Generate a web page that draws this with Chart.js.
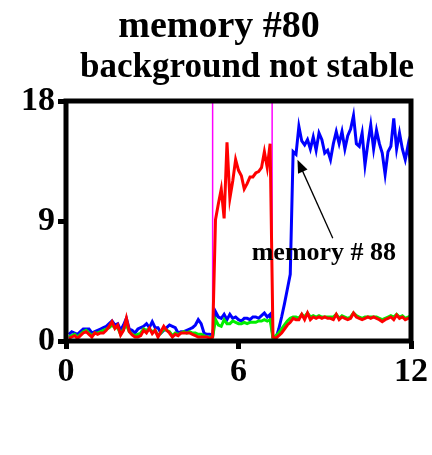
<!DOCTYPE html>
<html>
<head>
<meta charset="utf-8">
<script src="https://cdn.jsdelivr.net/npm/chart.js@4.4.0/dist/chart.umd.min.js"></script>
<style>
  html, body { margin: 0; padding: 0; background: #fff; }
  #wrap { width: 432px; height: 455px; }
</style>
</head>
<body>
<div id="wrap"><canvas id="memChart" width="432" height="455"></canvas></div>
<script>
// one sample every 0.1 time units
const t0 = 0.1;
const dt = 0.1;

const blueValues = [
  0.5, 0.7, 0.6, 0.5, 0.7, 0.9, 0.9, 0.9, 0.6, 0.7,
  0.8, 0.9, 1.0, 1.1, 1.3, 1.5, 1.2, 1.3, 0.8, 1.2,
  1.7, 0.9, 0.8, 0.6, 0.9, 1.0, 1.1, 1.3, 1.0, 1.45,
  1.0, 1.0, 0.6, 0.8, 1.0, 1.2, 1.1, 1.0, 0.6, 0.7,
  0.7, 0.8, 0.9, 1.0, 1.2, 1.6, 1.3, 0.6, 0.5, 0.5,
  0.4,
  2.2, 1.8, 1.7, 2.0, 1.6, 2.0, 1.7, 1.8, 1.6, 1.5,
  1.7, 1.7, 1.6, 1.8, 1.8, 1.7, 1.9, 2.1, 1.8, 2.0,
  0.3, 0.2, 0.9, 1.8, 2.8, 3.9, 5.0,
  14.2, 14.0, 16.1, 15.0, 14.7, 15.1, 14.4, 15.3, 14.3, 15.6,
  15.1, 14.1, 14.3, 13.6, 14.8, 15.7, 14.8, 15.7, 14.4, 15.4,
  15.9, 16.9, 14.8, 14.6, 15.6, 13.2, 14.8, 16.2, 14.4, 15.8,
  14.8, 14.1, 12.5, 14.2, 14.6, 16.7, 14.4, 15.6, 14.4, 13.6,
  14.7, 13.0
];

const greenValues = [
  0.3, 0.4, 0.5, 0.3, 0.5, 0.7, 0.8, 0.6, 0.4, 0.6,
  0.6, 0.7, 0.8, 0.9, 1.0, 1.2, 1.0, 1.0, 0.5, 0.9,
  1.2, 0.7, 0.5, 0.4, 0.5, 0.6, 0.9, 0.8, 0.9, 0.7,
  0.8, 0.4, 0.6, 0.9, 0.8, 0.7, 0.4, 0.6, 0.5, 0.6,
  0.7, 0.6, 0.7, 0.6, 0.6, 0.5, 0.5, 0.4, 0.3, 0.3,
  0.3,
  1.6, 1.2, 1.1, 1.6, 1.3, 1.3, 1.5, 1.4, 1.3, 1.3,
  1.4, 1.3, 1.4, 1.4, 1.4, 1.5, 1.5, 1.6, 1.5, 1.6,
  0.2, 0.4, 0.6, 0.9, 1.2, 1.5, 1.7, 1.8, 1.8, 1.7,
  2.0, 1.8, 2.1, 1.8, 1.9, 1.8, 1.9, 1.8, 1.8, 1.8,
  1.8, 1.8, 2.0, 1.7, 1.9, 1.8, 1.7, 1.8, 2.1, 1.9,
  1.8, 1.7, 1.8, 1.8, 1.8, 1.8, 1.8, 1.7, 1.6, 1.7,
  1.8, 1.9, 1.8, 2.0, 1.8, 1.9, 1.7, 1.8, 1.9
];

const redValues = [
  0.2, 0.3, 0.4, 0.2, 0.4, 0.6, 0.7, 0.5, 0.3, 0.6,
  0.5, 0.6, 0.6, 0.8, 1.1, 1.45, 0.95, 1.2, 0.45, 0.8,
  1.7, 0.7, 0.45, 0.3, 0.3, 0.4, 0.8, 0.6, 0.95, 0.55,
  0.8, 0.3, 0.7, 1.1, 0.8, 0.6, 0.3, 0.5, 0.4, 0.6,
  0.6, 0.6, 0.6, 0.5, 0.4, 0.3, 0.3, 0.3, 0.3, 0.2,
  0.3,
  9.1, 10.3, 11.4, 9.2, 14.9, 10.7, 12.0, 13.6, 12.8, 12.4,
  11.4, 11.8, 12.3, 12.3, 12.6, 12.7, 13.0, 14.2, 13.0, 14.8,
  0.3, 0.2, 0.4, 0.6, 0.9, 1.2, 1.4, 1.7, 1.6, 1.6,
  2.0, 1.6, 2.1, 1.6, 1.8, 1.7, 1.8, 1.7, 1.8, 1.7,
  1.7, 1.6, 2.0, 1.6, 1.8, 1.7, 1.6, 1.7, 2.1, 1.8,
  1.7, 1.6, 1.7, 1.8, 1.7, 1.8, 1.7, 1.6, 1.45, 1.6,
  1.7, 1.8, 1.6, 1.95, 1.7, 1.8, 1.6, 1.7, 1.75
];

// vertical markers (magenta)
const markerTimes = [5.1, 7.17];

const xTicks = [0, 6, 12];
const yTicks = [0, 9, 18];

const titleLines = ['memory #80', 'background not stable'];
const noteText = 'memory # 88';
const notePos = { x: 8.97, y: 6.08 };
const arrowFrom = { x: 9.28, y: 7.7 };
const arrowTo = { x: 8.05, y: 13.6 };

function toPoints(values) {
  return values.map((v, i) => ({ x: t0 + i * dt, y: v }));
}

const serif = '"Liberation Serif", "Times New Roman", serif';

const datasets = [
  { data: toPoints(redValues), borderColor: '#ff0000', borderWidth: 3 },
  { data: toPoints(greenValues), borderColor: '#00ee00', borderWidth: 3 },
  { data: toPoints(blueValues), borderColor: '#0000ff', borderWidth: 3 }
];
markerTimes.forEach(t => {
  datasets.push({
    data: [{ x: t, y: yTicks[0] }, { x: t, y: yTicks[yTicks.length - 1] }],
    borderColor: '#ff00ff',
    borderWidth: 1.5
  });
});

// frame, title and arrow note
const extras = {
  id: 'extras',
  afterDatasetsDraw(chart) {
    const ctx = chart.ctx;
    const a = chart.chartArea;
    const xs = chart.scales.x, ys = chart.scales.y;
    ctx.save();
    ctx.strokeStyle = '#000';
    ctx.lineWidth = 5;
    ctx.strokeRect(a.left, a.top, a.right - a.left, a.bottom - a.top);

    // arrow
    const x1 = xs.getPixelForValue(arrowFrom.x), y1 = ys.getPixelForValue(arrowFrom.y);
    const x2 = xs.getPixelForValue(arrowTo.x), y2 = ys.getPixelForValue(arrowTo.y);
    const ang = Math.atan2(y2 - y1, x2 - x1);
    const head = 14;
    ctx.lineWidth = 1.3;
    ctx.beginPath();
    ctx.moveTo(x1, y1);
    ctx.lineTo(x2 - Math.cos(ang) * head * 0.8, y2 - Math.sin(ang) * head * 0.8);
    ctx.stroke();
    ctx.fillStyle = '#000';
    ctx.beginPath();
    ctx.moveTo(x2, y2);
    ctx.lineTo(x2 - head * Math.cos(ang - 0.38), y2 - head * Math.sin(ang - 0.38));
    ctx.lineTo(x2 - head * Math.cos(ang + 0.38), y2 - head * Math.sin(ang + 0.38));
    ctx.closePath();
    ctx.fill();

    ctx.font = 'bold 26px ' + serif;
    ctx.textAlign = 'center';
    ctx.textBaseline = 'alphabetic';
    ctx.fillText(noteText, xs.getPixelForValue(notePos.x), ys.getPixelForValue(notePos.y));

    ctx.font = 'bold 38px ' + serif;
    ctx.fillText(titleLines[0], 219, 37);
    ctx.font = 'bold 35px ' + serif;
    ctx.fillText(titleLines[1], 247, 77);
    ctx.restore();
  }
};

const tickFont = { family: serif, size: 34, weight: 'bold' };

new Chart(document.getElementById('memChart'), {
  type: 'line',
  data: { datasets: datasets },
  options: {
    responsive: false,
    animation: false,
    devicePixelRatio: 1,
    layout: { padding: { left: 0, top: 101, right: 21, bottom: 0 } },
    elements: { point: { radius: 0 }, line: { tension: 0 } },
    plugins: { legend: { display: false }, tooltip: { enabled: false } },
    scales: {
      x: {
        type: 'linear',
        min: 0,
        max: 12,
        afterBuildTicks: s => { s.ticks = xTicks.map(v => ({ value: v })); },
        afterFit: s => { s.height = 114; },
        border: { display: false },
        grid: { drawOnChartArea: false, drawTicks: true, tickLength: 8, tickWidth: 5, tickColor: '#000' },
        ticks: { font: tickFont, color: '#000', padding: 3, maxRotation: 0 }
      },
      y: {
        min: 0,
        max: 18,
        afterBuildTicks: s => { s.ticks = yTicks.map(v => ({ value: v })); },
        afterFit: s => { s.width = 66; },
        border: { display: false },
        grid: { drawOnChartArea: false, drawTicks: true, tickLength: 8, tickWidth: 5, tickColor: '#000' },
        ticks: { font: tickFont, color: '#000', padding: 3 }
      }
    }
  },
  plugins: [extras]
});
</script>
</body>
</html>
